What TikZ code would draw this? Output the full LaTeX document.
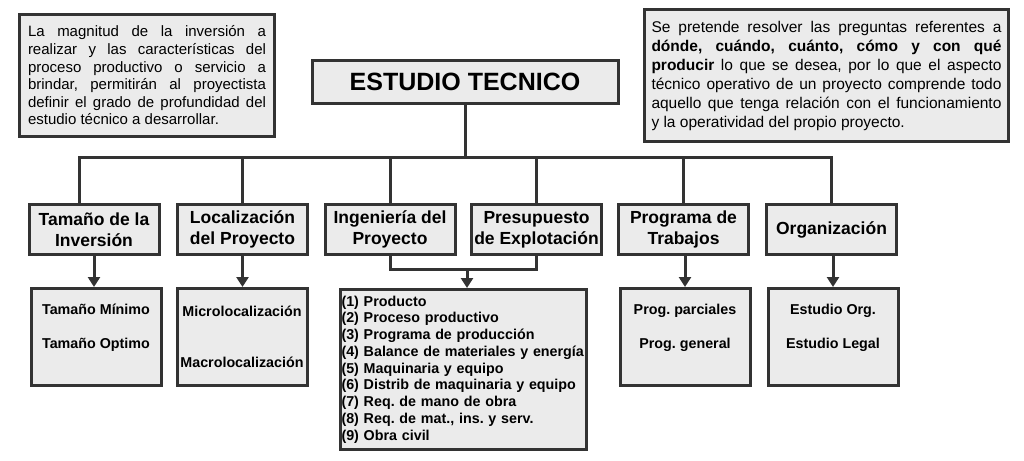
\documentclass[tikz,border=0pt]{standalone}
\usepackage{fontspec}
\setmainfont{Liberation Sans}
\usetikzlibrary{arrows.meta}
\frenchspacing
\hyphenpenalty=10000
\definecolor{edge}{HTML}{333333}
\definecolor{paper}{HTML}{EBEBEB}
\tikzstyle{box_base}=[draw=edge, fill=paper, line width=3pt, inner sep=0pt]
\tikzstyle{box_note}=[box_base, align=justify, font=\fontsize{15}{17.6}\selectfont]
\tikzstyle{box_title}=[box_base, minimum width=306pt, minimum height=43pt, font=\fontsize{25}{28}\selectfont\bfseries]
\tikzstyle{box_topic}=[box_base, align=center, minimum width=130pt, minimum height=50pt, font=\fontsize{17.5}{21}\selectfont\bfseries]
\tikzstyle{box_detail}=[box_base, align=center, minimum width=130pt, minimum height=97pt, font=\fontsize{14.3}{16}\selectfont\bfseries]
\tikzstyle{box_list}=[box_base, align=left, text width=243pt, inner xsep=1.5pt, minimum height=160pt, font=\fontsize{14.3}{16.75}\selectfont\bfseries]
\tikzstyle{link}=[draw=edge, line width=3pt]
\tikzstyle{link_arrow}=[link, -{Triangle[width=12pt,length=10pt]}]

\begin{document}
\begin{tikzpicture}[x=1pt, y=-1pt]
\useasboundingbox (0,0) rectangle (1024,460);
% notes
\node[box_note, text width=238pt, inner xsep=8.5pt, minimum height=122pt] (note_left) at (147,75.5){%
La magnitud de la inversión a\linebreak
realizar y las características del\linebreak
proceso productivo o servicio a\linebreak
brindar, permitirán al proyectista\linebreak
definir el grado de profundidad del\linebreak
estudio técnico a desarrollar.};
\node[box_note, text width=350pt, inner xsep=7pt, minimum height=132pt, font=\fontsize{15.5}{19}\selectfont] (note_right) at (826.5,75.5){%
Se pretende resolver las preguntas referentes a\linebreak
\textbf{dónde, cuándo, cuánto, cómo y con qué}\linebreak
\textbf{producir} lo que se desea, por lo que el aspecto\linebreak
técnico operativo de un proyecto comprende todo\linebreak
aquello que tenga relación con el funcionamiento\linebreak
y la operatividad del propio proyecto.};
\node[box_title] (title) at (465,82){ESTUDIO TECNICO};
% first row
\node[box_topic] (tam) at (94,229.5){Tamaño de la\\Inversión};
\node[box_topic] (loc) at (242.5,229.5){Localización\\del Proyecto};
\node[box_topic] (ing) at (390,229.5){Ingeniería del\\Proyecto};
\node[box_topic] (pre) at (536.5,229.5){Presupuesto\\de Explotación};
\node[box_topic] (prog) at (683.5,229.5){Programa de\\Trabajos};
\node[box_topic] (org) at (831.5,229.5){Organización};
% second row
\node[box_detail] (tam_sub) at (96,337){Tamaño Mínimo\\[18pt]Tamaño Optimo\\[6pt]};
\node[box_detail] (loc_sub) at (242,337){Microlocalización\\[35pt]Macrolocalización};
\node[box_list] (ing_list) at (463,369.5){%
(1) Producto\\
(2) Proceso productivo\\
(3) Programa de producción\\
(4) Balance de materiales y energía\\
(5) Maquinaria y equipo\\
(6) Distrib de maquinaria y equipo\\
(7) Req. de mano de obra\\
(8) Req. de mat., ins. y serv.\\
(9) Obra civil};
\node[box_detail] (prog_sub) at (685,337){Prog. parciales\\[18pt]Prog. general\\[6pt]};
\node[box_detail] (org_sub) at (833,337){Estudio Org.\\[18pt]Estudio Legal\\[6pt]};
% bus
\coordinate (bus_l) at (79,157);
\coordinate (bus_r) at (831,157);
\coordinate (join) at (467,269);
\draw[link] (title.south) -- (title.south |- bus_l);
\draw[link] (bus_l |- tam.north) |- (bus_r) -- (bus_r |- org.north);
\draw[link] (loc.north |- bus_l) -- (loc.north);
\draw[link] (ing.north |- bus_l) -- (ing.north);
\draw[link] (pre.north |- bus_l) -- (pre.north);
\draw[link] (prog.north |- bus_l) -- (prog.north);
% arrows down
\draw[link_arrow] (tam.south) -- (tam.south |- tam_sub.north);
\draw[link_arrow] (loc.south) -- (loc.south |- loc_sub.north);
\draw[link] (ing.south) |- (join) -| (pre.south);
\draw[link_arrow] (join) -- (join |- ing_list.north);
\draw[link_arrow] (prog_sub.north |- prog.south) -- (prog_sub.north);
\draw[link_arrow] (org_sub.north |- org.south) -- (org_sub.north);
\end{tikzpicture}
\end{document}
